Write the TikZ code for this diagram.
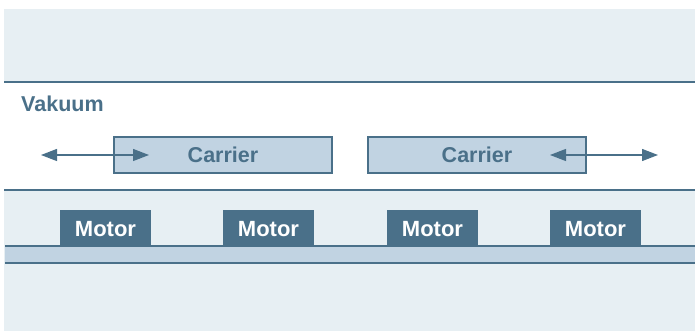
\documentclass[tikz,border=0pt]{standalone}
\usepackage{fontspec}
\setsansfont{Liberation Sans}
\usepackage{xcolor}
\usetikzlibrary{positioning, arrows.meta}

\definecolor{railblue}{HTML}{4A7089}
\definecolor{bandgray}{HTML}{E7EFF3}
\definecolor{carrierfill}{HTML}{C1D3E2}

\begin{document}
\begin{tikzpicture}[
    x=1pt, y=-1pt,
    carrier/.style={
        rectangle, draw=railblue, line width=1.2pt, fill=carrierfill,
        minimum width=218pt, minimum height=36pt, inner sep=0pt,
        font=\sffamily\bfseries\fontsize{21.5}{24}\selectfont, text=railblue
    },
    motor/.style={
        rectangle, fill=railblue, anchor=south,
        minimum width=91pt, minimum height=36pt, inner sep=0pt,
        text height=17pt, text depth=0pt,
        font=\sffamily\bfseries\fontsize{22}{24}\selectfont, text=white
    },
    border/.style={draw=railblue, line width=1.4pt},
    arrow/.style={{Triangle[length=16pt, width=12pt]}-{Triangle[length=16pt, width=12pt]},
        draw=railblue, line width=1.3pt}
]
\useasboundingbox (0,0) rectangle (699,331);

% outer chambers
\fill[bandgray] (4,9) rectangle (695,82);
\fill[bandgray] (4,190) rectangle (695,331);
\draw[border] (4,82) -- (695,82);
\draw[border] (4,190) -- (695,190);

% rail
\fill[carrierfill] (5,246) rectangle (695,263);
\draw[border] (5,246) -- (695,246);
\draw[border] (5,263) -- (695,263);

% vacuum area
\node[anchor=west, inner sep=0pt, text=railblue,
      font=\sffamily\bfseries\fontsize{21.5}{24}\selectfont] (vakuum) at (21,104) {Vakuum};

\node[carrier] (carrierL) at (223,155) {Carrier};
\node[carrier] (carrierR) at (477,155) {Carrier};

\coordinate (leftEnd) at (41,155);
\coordinate (leftIn) at (149,155);
\coordinate (rightIn) at (550,155);
\coordinate (rightEnd) at (658,155);
\draw[arrow] (leftEnd) -- (leftIn);
\draw[arrow] (rightIn) -- (rightEnd);

% motors on the rail
\node[motor] (motor1) at (105.5,246) {Motor};
\node[motor] (motor2) at (268.5,246) {Motor};
\node[motor] (motor3) at (432.5,246) {Motor};
\node[motor] (motor4) at (595.5,246) {Motor};

\end{tikzpicture}
\end{document}
